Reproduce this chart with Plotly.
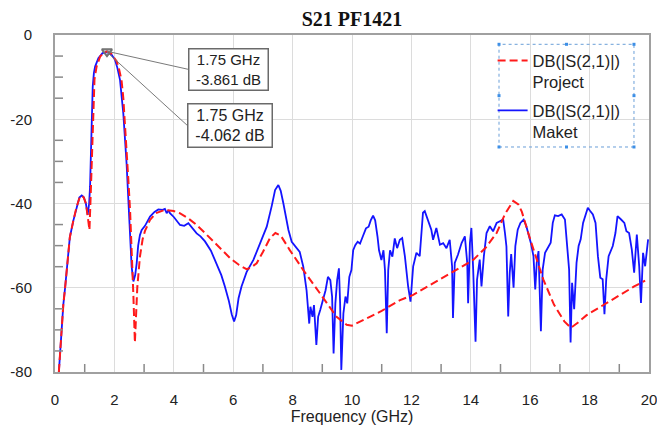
import plotly.graph_objects as go

# ---- measured / simulated S21 data (GHz, dB) ----
project_freq = [0.13, 0.18, 0.22, 0.28, 0.34, 0.42, 0.5, 0.62, 0.72, 0.82, 0.9, 0.97,
                1.04, 1.1, 1.16, 1.2, 1.23, 1.26, 1.29, 1.33, 1.4, 1.52, 1.62, 1.75,
                1.88, 2.0, 2.08, 2.16, 2.24, 2.3, 2.36, 2.42, 2.47, 2.53, 2.58, 2.64,
                2.69, 2.73, 2.77, 2.86, 2.95, 3.03, 3.2, 3.4, 3.7, 4.0, 4.2, 4.5,
                4.77, 5.05, 5.33, 5.6, 5.9, 6.2, 6.45, 6.6, 6.79, 7.0, 7.24, 7.42,
                7.6, 7.9, 8.36, 8.92, 9.48, 9.82, 10.0, 10.6, 11.0, 11.6, 12.06, 12.6,
                13.1, 13.6, 14.08, 14.5, 14.87, 15.15, 15.43, 15.6, 15.72, 16.0, 16.44,
                16.8, 17.15, 17.37, 17.6, 17.9, 18.3, 18.67, 19.22, 19.5, 19.87]
project_db = [-80, -74, -70, -64, -60, -53, -48, -44, -41, -38.8, -38.1, -38.6,
              -40, -43, -46.3, -38.4, -31, -22.6, -15, -10.5, -7.5, -5.1, -4.4, -3.861,
              -4.3, -5.4, -6.3, -8.2, -10.7, -15, -21, -28, -34.4, -42, -49.5, -62,
              -73, -66, -60, -52.6, -48.5, -46.5, -43.9, -42.3, -41.5, -41.8, -42.3, -43.6,
              -45.1, -47, -49, -51, -53, -54.6, -55.6, -55.2, -54.2, -51.5, -48.2, -47,
              -47.6, -51, -55.8, -61.3, -66.9, -68.8, -69, -66.9, -65.5, -63, -61.7, -59.5,
              -57.5, -55.5, -53.4, -50.5, -47, -42.5, -39.4, -40.2, -42, -48.5, -58,
              -64, -68, -69.5, -68.3, -66.5, -64.8, -63.2, -60.8, -59.7, -58.3]

maket_freq = [0.13, 0.18, 0.22, 0.28, 0.34, 0.42, 0.5, 0.62, 0.72, 0.82, 0.9, 0.97,
              1.04, 1.1, 1.15, 1.18, 1.21, 1.23, 1.27, 1.31, 1.35, 1.46, 1.6, 1.75,
              1.9, 2.02, 2.1, 2.19, 2.3, 2.41, 2.47, 2.53, 2.58, 2.64, 2.7, 2.75,
              2.8, 2.86, 2.92, 3.03, 3.2, 3.35, 3.48, 3.62, 3.7, 3.76, 3.82, 3.87,
              4.0, 4.21, 4.35, 4.49, 4.62, 4.77, 4.9, 5.05, 5.25, 5.44, 5.6, 5.72,
              5.85, 5.95, 6.03, 6.1, 6.18, 6.28, 6.45, 6.68, 6.9, 7.13, 7.3, 7.41,
              7.52, 7.6, 7.69, 7.86, 7.97, 8.13, 8.24, 8.36, 8.47, 8.56, 8.6, 8.67,
              8.72, 8.8, 8.86, 8.93, 9.02, 9.11, 9.19, 9.27, 9.33, 9.38, 9.44, 9.5,
              9.56, 9.6, 9.64, 9.71, 9.78, 9.84, 9.91, 9.98, 10.04, 10.11, 10.19, 10.27,
              10.36, 10.47, 10.56, 10.63, 10.71, 10.78, 10.86, 10.91, 10.99, 11.06, 11.11, 11.17,
              11.22, 11.28, 11.36, 11.44, 11.52, 11.61, 11.69, 11.78, 11.89, 11.97, 12.06, 12.17,
              12.28, 12.39, 12.45, 12.56, 12.67, 12.73, 12.84, 12.96, 13.07, 13.18, 13.29, 13.37,
              13.4, 13.46, 13.57, 13.69, 13.8, 13.88, 13.91, 13.97, 14.02, 14.08, 14.16, 14.21,
              14.3, 14.36, 14.44, 14.53, 14.64, 14.75, 14.87, 14.98, 15.09, 15.15, 15.2, 15.26,
              15.31, 15.36, 15.44, 15.5, 15.58, 15.67, 15.78, 15.87, 15.94, 16.02, 16.11, 16.17,
              16.22, 16.28, 16.36, 16.42, 16.5, 16.61, 16.69, 16.76, 16.83, 16.94, 17.06, 17.17,
              17.24, 17.31, 17.36, 17.41, 17.48, 17.56, 17.63, 17.7, 17.78, 17.87, 17.94, 18.02,
              18.11, 18.2, 18.28, 18.36, 18.44, 18.5, 18.56, 18.64, 18.78, 18.87, 18.94, 19.06,
              19.17, 19.24, 19.33, 19.42, 19.5, 19.59, 19.67, 19.73, 19.8, 19.87, 19.92, 19.97]
maket_db = [-80, -74, -70, -64, -60, -53, -48, -44, -41, -38.6, -38.1, -38.5,
            -40, -42.7, -40, -36, -28, -22.6, -12.3, -9, -7.5, -5.5, -4.3, -4.062,
            -4.6, -5.9, -7.8, -10.7, -18.6, -30.5, -38.4, -46.3, -55, -58.5, -57, -54.2,
            -50, -47.5, -46.3, -45.3, -43.1, -42, -41.4, -41.5, -41.3, -42.3, -41.6, -42.3,
            -43.2, -45.1, -45.3, -44.7, -45.8, -47.1, -47.8, -49, -51.2, -54.2, -57, -59.7,
            -63, -66.3, -68, -66.5, -62.5, -59.7, -56.3, -53.4, -49.5, -45.5, -40.5, -36.8,
            -35.6, -37, -40, -46.3, -49.1, -50.7, -51.5, -55, -60.6, -68.5, -64.5, -66.9,
            -64.1, -73.6, -66.9, -65.3, -62.9, -60.6, -57.4, -58.2, -62.1, -75.6, -63.7, -58.2,
            -55.4, -63.7, -79.5, -66.1, -62.1, -63.7, -57.4, -55.8, -51.1, -49.9, -49.1, -49.5,
            -47.9, -45.9, -45.5, -44, -42.9, -44, -47.9, -51.1, -53.4, -51.1, -55.8, -70.8,
            -55.8, -51.1, -52.6, -48.3, -50.6, -48.6, -48.2, -52.5, -59.7, -63.3, -54.9, -51.7,
            -52.5, -42.2, -41.8, -43.8, -46.2, -48.6, -45.8, -49.8, -49.4, -50.6, -48.6, -54.9,
            -67.2, -54.1, -52.1, -49.4, -47.8, -54.1, -63.7, -49.4, -45.8, -55.7, -72.8, -58.1,
            -53.3, -59.7, -52.5, -47, -45.4, -46.6, -44.6, -44.2, -43.8, -47, -50.2, -66.8,
            -56.5, -52, -60, -50.1, -46.2, -44.6, -43.8, -45.4, -47, -49.3, -52.5, -60.4,
            -54.1, -51.3, -70.3, -55.7, -51.7, -50.1, -49.3, -44.6, -42.8, -43, -42.6, -43.8,
            -49.3, -55.7, -73, -58.8, -65.1, -54.1, -50.1, -48.5, -44.6, -42.2, -41, -41.8,
            -42.6, -44.6, -52.5, -57.6, -58, -66.3, -58, -52.5, -50.1, -47, -43, -43.8,
            -44.6, -46.6, -47, -50.9, -56.4, -47.4, -54.9, -63.6, -51.7, -54.9, -50.9, -48.5]

# marker readouts at the passband peak
marker_freq = [1.75, 1.75]
marker_db = [-3.861, -4.062]

# axis ticks
x_ticks = [0, 2, 4, 6, 8, 10, 12, 14, 16, 18, 20]
x_ticklabels = ["0", "2", "4", "6", "8", "10", "12", "14", "16", "18", "20"]
x_minor_ticks = [1, 3, 5, 7, 9, 11, 13, 15, 17, 19]
y_ticks = [-80, -60, -40, -20, 0]
y_ticklabels = ["-80", "-60", "-40", "-20", "0"]
y_minor_ticks = [-75, -70, -65, -55, -50, -45, -35, -30, -25, -15, -10, -5]

SANS = "Liberation Sans, Arial, sans-serif"
SERIF = "Liberation Serif, Times New Roman, serif"
TICK_STYLE = dict(color="#8a8a8a", width=1.5)
TICK_LEN = 8

fig = go.Figure()

fig.add_trace(go.Scatter(
    x=maket_freq, y=maket_db, mode="lines",
    name="DB(|S(2,1)|)<br>Maket", legendgroup="maket", legendrank=2,
    line=dict(color="#1414ff", width=1.8),
))
fig.add_trace(go.Scatter(
    x=project_freq, y=project_db, mode="lines",
    name="DB(|S(2,1)|)<br>Project", legendgroup="project", legendrank=1,
    line=dict(color="#ff1a1a", width=2, dash="8px,4px"),
))
fig.add_trace(go.Scatter(
    x=marker_freq, y=marker_db, mode="markers", showlegend=False,
    marker=dict(symbol="triangle-down-open", size=9, color="#707070",
                line=dict(width=1.3, color="#707070")),
    hoverinfo="skip",
))

# marker readout boxes
box_specs = [
    dict(ax=81, ay=18, width=76, height=38, size=15),
    dict(ax=80, ay=73, width=81, height=40, size=16),
]
for f, v, spec in zip(marker_freq, marker_db, box_specs):
    fig.add_annotation(
        x=f, y=v, xref="x", yref="y",
        text=f"{f:.2f} GHz<br>{v:.3f} dB",
        showarrow=True, arrowhead=0, arrowwidth=1, arrowcolor="#7a7a7a",
        ax=spec["ax"], ay=spec["ay"], xanchor="left", yanchor="middle",
        standoff=0, startstandoff=0,
        width=spec["width"], height=spec["height"],
        bgcolor="white", bordercolor="#6a6a6a", borderwidth=1.5, borderpad=1,
        font=dict(family=SANS, size=spec["size"], color="#222222"),
        align="center",
    )

# short inside tick marks between the grid lines
for t in x_minor_ticks:
    fig.add_shape(type="line", xref="x", yref="paper", x0=t, x1=t,
                  ysizemode="pixel", yanchor=0, y0=0, y1=TICK_LEN,
                  line=TICK_STYLE, layer="above")
for t in y_minor_ticks:
    fig.add_shape(type="line", xref="paper", yref="y", y0=t, y1=t,
                  xsizemode="pixel", xanchor=0, x0=0, x1=TICK_LEN,
                  line=TICK_STYLE, layer="above")

# dotted selection frame around the legend, with its grab handles
lx0, lx1, ly0, ly1 = 0.7475, 0.9747, 0.6677, 0.9724
fig.add_shape(type="rect", xref="paper", yref="paper",
              x0=lx0, x1=lx1, y0=ly0, y1=ly1,
              line=dict(color="#6a9fd8", width=1, dash="dot"),
              fillcolor="rgba(255,255,255,0)", layer="above")
lxm, lym = (lx0 + lx1) / 2, (ly0 + ly1) / 2
for hx, hy in [(lx0, ly0), (lxm, ly0), (lx1, ly0), (lx0, lym), (lx1, lym),
               (lx0, ly1), (lxm, ly1), (lx1, ly1)]:
    fig.add_shape(type="rect", xref="paper", yref="paper",
                  xsizemode="pixel", ysizemode="pixel",
                  xanchor=hx, yanchor=hy, x0=-1.5, x1=1.5, y0=-1.5, y1=1.5,
                  line=dict(width=0), fillcolor="#3d8fe6", layer="above")

axis_common = dict(
    showgrid=True, gridcolor="#dcdcdc", gridwidth=1,
    zeroline=False, showline=True, linecolor="#a0a0a0", linewidth=2,
    mirror=True, ticks="", automargin=False, ticklabeloverflow="allow",
    tickfont=dict(family=SANS, size=15, color="#222222"),
)

fig.update_layout(
    xaxis=dict(range=[0, 20], tickmode="array", tickvals=x_ticks, ticktext=x_ticklabels,
               ticklabelstandoff=13,
               title=dict(text="Frequency (GHz)",
                          font=dict(family=SANS, size=16, color="#222222"), standoff=3),
               **axis_common),
    yaxis=dict(range=[-80, 0], tickmode="array", tickvals=y_ticks, ticktext=y_ticklabels,
               ticklabelstandoff=18, **axis_common),
)

fig.update_layout(
    width=657, height=432,
    margin=dict(l=55, r=8, t=35, b=60, autoexpand=False),
    paper_bgcolor="white", plot_bgcolor="white",
    title=dict(text="<b>S21 PF1421</b>", x=0.5, xref="paper", xanchor="center",
               y=1 - 19 / 432, yref="container", yanchor="middle",
               font=dict(family=SERIF, size=20, color="#111111")),
    legend=dict(
        x=0.7367, y=0.9758, xanchor="left", yanchor="top",
        traceorder="grouped", valign="top", tracegroupgap=4,
        bgcolor="rgba(255,255,255,0)", borderwidth=0,
        font=dict(family=SANS, size=16.5, color="#222222"),
    ),
    showlegend=True,
)

fig.write_html("out.html")
